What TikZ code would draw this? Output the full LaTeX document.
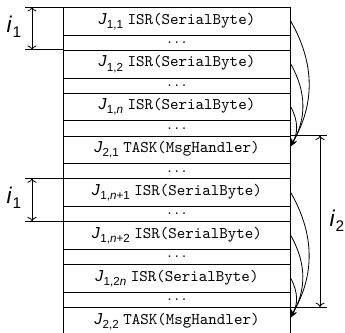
\documentclass[tikz,border=0pt]{standalone}
\usepackage{fontspec}
\setmainfont{Liberation Sans}
\usetikzlibrary{arrows.meta}
\newcommand{\Jsub}[1]{{\fontsize{9.8}{9.8}\selectfont\textit{J}\kern0.2pt\raisebox{-0.5ex}{\fontsize{7.2}{7.2}\selectfont #1}}}
\newcommand{\isub}[1]{{\fontsize{14}{14}\selectfont\textit{i}\kern0.3pt\raisebox{-0.45ex}{\fontsize{9.5}{9.5}\selectfont #1}}}
\newcommand{\rowtext}[3]{\Jsub{#1}\ \texttt{#2(#3)}}
\begin{document}
\begin{tikzpicture}[x=0.6173pt,y=-0.6173pt,
  cell/.style={draw, line width=0.55pt, inner sep=0pt, anchor=north west, minimum width=140.1pt},
  bigrow/.style={cell, minimum height=17.1pt},
  dotrow/.style={cell, minimum height=9.36pt},
  guide/.style={line width=0.55pt},
  dim/.style={line width=0.5pt, <->},
  hop/.style={line width=0.5pt, -{Stealth[length=5pt,width=3.6pt]}, bend left=30}]
\useasboundingbox (0,0) rectangle (345,332);
\clip (0,0) rectangle (345,332);
\node[bigrow] (r1)  at (63,7)     {\rowtext{1,1}{ISR}{SerialByte}};
\node[dotrow] (r2)  at (63,34.7)  {$\ldots$};
\node[bigrow] (r3)  at (63,49.9)  {\rowtext{1,2}{ISR}{SerialByte}};
\node[dotrow] (r4)  at (63,77.6)  {$\ldots$};
\node[bigrow] (r5)  at (63,92.7)  {\rowtext{1,\textit{n}}{ISR}{SerialByte}};
\node[dotrow] (r6)  at (63,120.4) {$\ldots$};
\node[bigrow] (r7)  at (63,135.6) {\rowtext{2,1}{TASK}{MsgHandler}};
\node[dotrow] (r8)  at (63,163.3) {$\ldots$};
\node[bigrow] (r9)  at (63,178.4) {\rowtext{1,\textit{n}+1}{ISR}{SerialByte}};
\node[dotrow] (r10) at (63,206.1) {$\ldots$};
\node[bigrow] (r11) at (63,221.3) {\rowtext{1,\textit{n}+2}{ISR}{SerialByte}};
\node[dotrow] (r12) at (63,249)   {$\ldots$};
\node[bigrow] (r13) at (63,264.2) {\rowtext{1,2\textit{n}}{ISR}{SerialByte}};
\node[dotrow] (r14) at (63,291.9) {$\ldots$};
\node[bigrow] (r15) at (63,307)   {\rowtext{2,2}{TASK}{MsgHandler}};
% i1 dimension marks
\coordinate (a1) at (25,7);
\coordinate (a2) at (25,49.9);
\coordinate (a3) at (25,178.4);
\coordinate (a4) at (25,221.3);
\draw[guide] (a1) -- (r1.north west);
\draw[guide] (a2) -- (r3.north west);
\draw[guide] (a3) -- (r9.north west);
\draw[guide] (a4) -- (r11.north west);
\draw[dim] (32,7) -- (32,49.9);
\draw[dim] (32,178.4) -- (32,221.3);
\node (l1) at (14,27) {\isub{1}};
\node (l2) at (14,198) {\isub{1}};
% i2 dimension mark
\coordinate (b1) at (327,135.6);
\coordinate (b2) at (327,307);
\draw[guide] (r7.north east) -- (b1);
\draw[guide] (r15.north east) -- (b2);
\draw[dim] (320,135.6) -- (320,307);
\node (l3) at (337,221) {\isub{2}};
% curved arrows
\coordinate (e1) at (290,147);
\coordinate (e2) at (290,318);
\draw[hop] (r1.east) to (e1);
\draw[hop] (r3.east) to (e1);
\draw[hop] (r5.east) to (e1);
\draw[hop] (r9.east) to (e2);
\draw[hop] (r11.east) to (e2);
\draw[hop] (r13.east) to (e2);
\end{tikzpicture}
\end{document}
